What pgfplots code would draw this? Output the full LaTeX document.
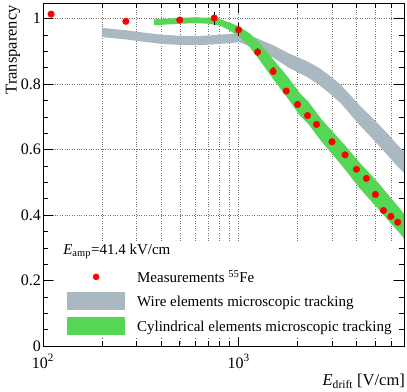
\documentclass[border=0pt]{standalone}
\usepackage{fontspec}
\setmainfont{Liberation Serif}
\usepackage{pgfplots}
\pgfplotsset{compat=1.18}

\definecolor{wiregray}{RGB}{170,184,194}
\definecolor{cylgreen}{RGB}{85,214,85}

\begin{document}
\begin{tikzpicture}
\begin{axis}[
    width=361pt, height=343pt, scale only axis,
    xmode=log, xmin=100, xmax=7000,
    ymin=0, ymax=1.048,
    xtick={100,1000},
    xticklabels={10\textsuperscript{2},10\textsuperscript{3}},
    minor xtick={200,300,400,500,600,700,800,900,2000,3000,4000,5000,6000},
    ytick={0,0.2,0.4,0.6,0.8,1},
    minor y tick num=3,
    /pgf/number format/assume math mode=true,
    yticklabel style={/pgf/number format/fixed, inner sep=2pt},
    xticklabel style={yshift=-5pt},
    tick label style={font=\fontsize{16}{19}\selectfont},
    label style={font=\fontsize{16.5}{19}\selectfont},
    tick align=inside,
    major tick length=10pt, minor tick length=5pt,
    every tick/.style={black, line width=0.6pt},
    axis line style={black, line width=0.8pt},
    xmajorgrids, xminorgrids, ymajorgrids,
    grid style={dotted, black!55, line width=0.5pt},
    ylabel={Transparency},
    ylabel style={at={(axis description cs:-0.083,0.994)}, anchor=east, inner sep=0pt},
    xlabel={\textit{E}\textsubscript{drift} [V/cm]},
    xlabel style={at={(axis description cs:1.003,-0.082)}, anchor=north east, inner sep=0pt},
    legend style={at={(axis description cs:0.033,0.026)}, anchor=south west,
        draw=none, fill=white, inner xsep=0pt, inner ysep=2pt, row sep=6.5pt,
        font=\fontsize{15}{18}\selectfont,
        nodes={inner sep=0pt, text depth=0pt}},
    legend cell align=left,
]

% wire elements band
\addplot[fill=wiregray, draw=none, forget plot] coordinates {
    (200,0.972) (272,0.964) (313,0.959) (403,0.951) (500,0.948) (630,0.947)
    (800,0.951) (1010,0.956) (1230,0.941) (1500,0.919) (1820,0.893) (2220,0.871)
    (2400,0.860) (2600,0.848) (2900,0.827) (3300,0.800) (3660,0.771) (4150,0.735)
    (4650,0.706) (5230,0.675) (5870,0.644) (6400,0.618) (7000,0.595)
    (7000,0.529) (6400,0.552) (5870,0.578) (5230,0.611) (4650,0.644) (4150,0.675)
    (3660,0.713) (3300,0.744) (2900,0.773) (2600,0.796) (2400,0.810) (2220,0.823)
    (1820,0.849) (1500,0.881) (1230,0.909) (1010,0.928) (800,0.923) (630,0.919)
    (500,0.920) (403,0.923) (313,0.931) (272,0.936) (200,0.944)
} -- cycle;

% cylindrical elements band
\addplot[fill=cylgreen, draw=none, forget plot] coordinates {
    (370,0.998) (450,1.001) (510,1.003) (600,1.004) (700,1.003) (800,0.999)
    (870,0.991) (1000,0.977) (1140,0.955) (1270,0.928) (1500,0.876) (1800,0.819)
    (2050,0.773) (2275,0.746) (2640,0.694) (3020,0.655) (3500,0.613) (4140,0.561)
    (4650,0.529) (5230,0.495) (5870,0.459) (6600,0.423) (7000,0.404)
    (7000,0.328) (6600,0.347) (5870,0.381) (5230,0.415) (4650,0.449) (4140,0.483)
    (3500,0.539) (3020,0.585) (2640,0.626) (2275,0.678) (2050,0.705) (1800,0.753)
    (1500,0.816) (1270,0.876) (1140,0.913) (1000,0.947) (870,0.969) (800,0.979)
    (700,0.985) (600,0.986) (510,0.985) (450,0.983) (370,0.980)
} -- cycle;

% measurements
\addplot[only marks, mark=*, mark size=3.3pt, mark options={fill=red, draw=red},
    forget plot,
    error bars/.cd, y dir=both, y explicit,
    error bar style={black, line width=0.8pt}, error mark=none]
    table[x=x, y=y, y error=e] {
    x     y      e
    110   1.014  0.005
    265   0.992  0.005
    500   0.996  0.008
    750   1.002  0.020
    1000  0.966  0.020
    1250  0.898  0.012
    1500  0.839  0.012
    1750  0.779  0.008
    2000  0.738  0.008
    2250  0.704  0.008
    2500  0.677  0.008
    3000  0.624  0.008
    3500  0.584  0.008
    4000  0.540  0.008
    4500  0.512  0.008
    5000  0.463  0.008
    5500  0.414  0.008
    6000  0.396  0.008
    6500  0.378  0.008
};

\addlegendimage{legend image code/.code={
    \node[overlay, anchor=west, inner sep=0pt, draw=none, fill=none, text=black] at (-4pt,3pt)
        {\textit{E}\textsubscript{amp}=41.4 kV/cm};
    \path[draw=none, fill=none] (-12pt,-9pt) rectangle (70pt,9pt);}}
\addlegendentry{}
\addlegendimage{legend image code/.code={
    \fill[red, draw=none] (29pt,0pt) circle (3.3pt);
    \path[draw=none, fill=none] (-12pt,-9pt) rectangle (70pt,9pt);}}
\addlegendentry{Measurements \textsuperscript{55}Fe}
\addlegendimage{legend image code/.code={
    \fill[wiregray, draw=none] (0pt,-9pt) rectangle (58pt,9pt);
    \path[draw=none, fill=none] (-12pt,-9pt) rectangle (70pt,9pt);}}
\addlegendentry{Wire elements microscopic tracking}
\addlegendimage{legend image code/.code={
    \fill[cylgreen, draw=none] (0pt,-9pt) rectangle (58pt,9pt);
    \path[draw=none, fill=none] (-12pt,-9pt) rectangle (70pt,9pt);}}
\addlegendentry{Cylindrical elements microscopic tracking}
\end{axis}
\pgfresetboundingbox
\path[use as bounding box] ([shift={(-43pt,-46pt)}]current axis.south west)
    rectangle ([shift={(3pt,3pt)}]current axis.north east);
\end{tikzpicture}
\end{document}
